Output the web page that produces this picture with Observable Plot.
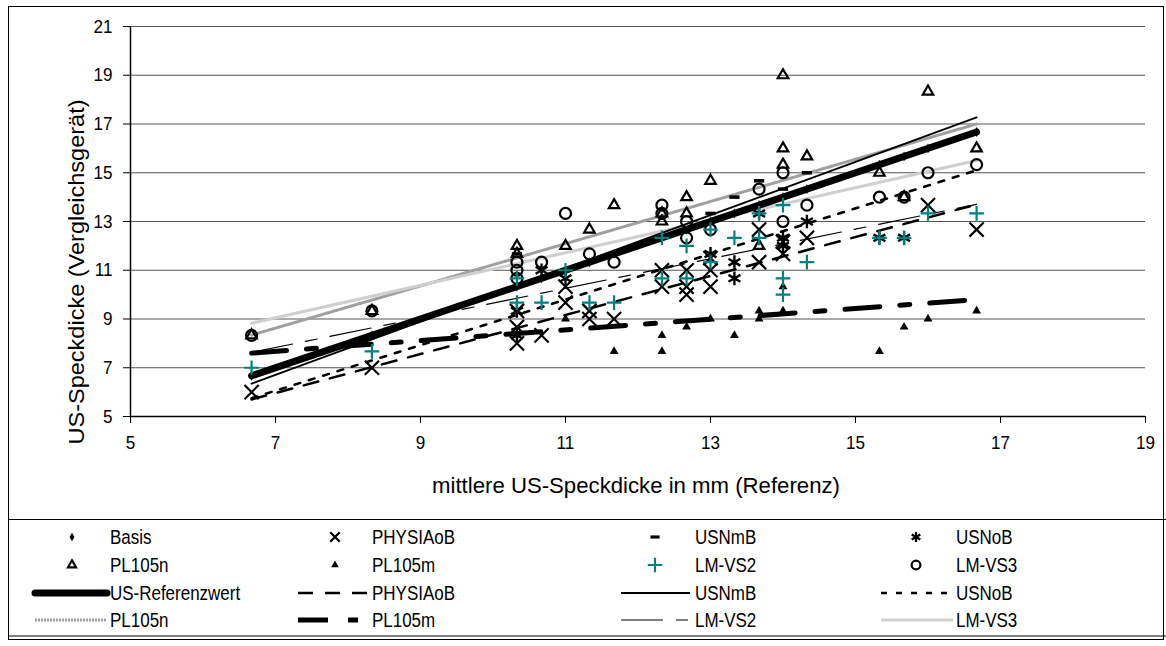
<!DOCTYPE html>
<html>
<head>
<meta charset="utf-8">
<script src="https://cdn.jsdelivr.net/npm/d3@7"></script>
<script src="https://cdn.jsdelivr.net/npm/@observablehq/plot@0.6"></script>
<style>
html,body{margin:0;padding:0;background:#fff;}
#wrap{position:relative;width:1166px;height:646px;overflow:hidden;background:#fff;}
#chart{position:absolute;left:0;top:0;}
#legend{position:absolute;left:0;top:510px;}
#frame{position:absolute;left:8px;top:6px;width:1156px;height:634px;border:1px solid #000;box-sizing:border-box;pointer-events:none;}
</style>
</head>
<body>
<div id="wrap"><div id="chart"></div><svg id="legend" width="1166" height="136"></svg><div id="frame"></div></div>
<script>
// ---------- data ----------
const xTicks = [5, 7, 9, 11, 13, 15, 17, 19];
const yTicks = [5, 7, 9, 11, 13, 15, 17, 19, 21];
const xTitle = "mittlere US-Speckdicke in mm (Referenz)";
const yTitle = "US-Speckdicke (Vergleichsgerät)";

const basis = [[6.67,6.67],[8.33,8.33],[10.33,10.33],[10.67,10.67],[11,11],[11.33,11.33],[11.67,11.67],[12.33,12.33],[12.67,12.67],[13,13],[13.33,13.33],[13.67,13.67],[14,14],[14.33,14.33],[15.33,15.33],[15.67,15.67],[16,16],[16.67,16.67]];
const physiaoB = [[6.67,6.0],[8.33,7.0],[10.33,9.33],[10.33,8.67],[10.33,8.0],[10.67,8.33],[11,10.33],[11,9.67],[11.33,9.33],[11.33,9.0],[11.67,9.0],[12.33,11.0],[12.33,10.33],[12.67,11.0],[12.67,10.33],[12.67,10.0],[13,11.5],[13,11.0],[13,10.33],[13.67,12.67],[13.67,11.33],[14,12.17],[14,11.67],[14.33,12.33],[16,13.67],[16.67,12.67]];
const usnmB = [[10.33,11.67],[13,13.33],[13.33,14.0],[13.67,14.67],[14,14.33],[14.33,15.0]];
const usnoB = [[10.33,9.33],[10.33,8.33],[10.67,11.0],[11,10.67],[13,11.67],[13.33,11.33],[13.33,10.67],[13.67,13.33],[14,12.33],[14,12.0],[14.33,13.0],[15.33,12.33],[15.67,12.33]];
const pl105n = [[6.67,8.33],[8.33,9.33],[10.33,12.0],[10.33,11.67],[11,12.0],[11.33,12.67],[11.67,13.67],[12.33,13.33],[12.33,13.0],[12.67,14.0],[12.67,13.33],[13,14.67],[13.67,12.0],[14,19.0],[14,16.0],[14,15.33],[14.33,15.67],[15.33,15.0],[15.67,14.0],[16,18.33],[16.67,16.0]];
const pl105m = [[11,9.0],[11.67,7.67],[12.33,8.33],[12.33,7.67],[12.67,8.67],[13,9.0],[13.33,8.33],[13.67,9.33],[13.67,9.0],[14,10.33],[14,9.33],[15.33,7.67],[15.67,8.67],[16,9.0],[16.67,9.33]];
const lmvs2 = [[6.67,7.0],[8.33,7.67],[10.33,10.67],[10.33,9.67],[10.67,9.67],[11,11.0],[11.33,9.67],[11.67,9.67],[12.33,12.33],[12.33,10.67],[12.67,12.0],[12.67,10.67],[13,12.67],[13,11.33],[13.33,12.33],[13.67,13.33],[13.67,12.33],[14,13.67],[14,10.67],[14,10.0],[14.33,11.33],[15.33,12.33],[15.67,12.33],[16,13.33],[16.67,13.33]];
const lmvs3 = [[6.67,8.33],[8.33,9.33],[10.33,11.33],[10.33,11.0],[10.33,10.67],[10.67,11.33],[11,13.33],[11.33,11.67],[11.67,11.33],[12.33,13.67],[12.33,13.33],[12.67,13.0],[12.67,12.33],[13,12.67],[13.67,14.33],[14,15.0],[14,13.0],[14.33,13.67],[15.33,14.0],[15.67,14.0],[16,15.0],[16.67,15.33]];

// trend lines: y at start and end of x range
const trendX = [6.67, 16.67];
const refLine = [6.67, 16.67];
const physiaLine = [5.7, 13.7];
const usnmbLine = [6.35, 17.27];
const usnobLine = [5.75, 15.1];
const pl105nLine = [8.34, 17.0];
const pl105mLine = [7.6, 9.8];
const lmvs2Line = [7.63, 13.7];
const lmvs3Line = [8.83, 15.5];

// ---------- styling ----------
const FONT = '"Liberation Sans",Arial,sans-serif';
const TEAL = "#008080";
const dashSymbol = {draw(ctx, size){const s=Math.sqrt(size);const w=s*1.45,h=s*0.5;ctx.rect(-w/2,-h/2,w,h);}};
const toRows = arr => trendX.map((x,i)=>({x, y: arr[i]}));
const px = d => d[0], py = d => d[1];

const lineMarks = [
  Plot.line(toRows(pl105nLine), {x:"x", y:"y", stroke:"#a0a0a0", strokeWidth:3, strokeDasharray:"2,1"}),
  Plot.line(toRows(lmvs3Line), {x:"x", y:"y", stroke:"#cfcfcf", strokeWidth:3}),
  Plot.line(toRows(pl105mLine), {x:"x", y:"y", stroke:"#000", strokeWidth:5, strokeDasharray:"35,20,10,20"}),
  Plot.line(toRows(lmvs2Line), {x:"x", y:"y", stroke:"#000", strokeWidth:1.2, strokeDasharray:"42,13,12,13"}),
  Plot.line(toRows(physiaLine), {x:"x", y:"y", stroke:"#000", strokeWidth:2.5, strokeDasharray:"15,12"}),
  Plot.line(toRows(usnobLine), {x:"x", y:"y", stroke:"#000", strokeWidth:2.5, strokeDasharray:"6,9"}),
  Plot.line(toRows(usnmbLine), {x:"x", y:"y", stroke:"#000", strokeWidth:2}),
  Plot.line(toRows(refLine), {x:"x", y:"y", stroke:"#000", strokeWidth:7, strokeLinecap:"round"})
];

const chart = Plot.plot({
  width: 1166, height: 510,
  marginLeft: 130, marginRight: 21, marginTop: 26, marginBottom: 94,
  style: {fontFamily: FONT, fontSize: "19px", background: "transparent", color: "#000"},
  x: {domain: [5, 19]},
  y: {domain: [5, 21]},
  marks: [
    Plot.ruleY(yTicks, {stroke: "#555", strokeWidth: 1}),
    Plot.axisX({ticks: xTicks, tickSize: 7, tickPadding: 12, label: null, fontSize: 19, stroke: "#000"}),
    Plot.axisY({ticks: yTicks, tickSize: 7, tickPadding: 11, label: null, fontSize: 19, stroke: "#000"}),
    Plot.ruleX([5], {stroke: "#000", strokeWidth: 1.5}),
    Plot.ruleY([5], {stroke: "#000", strokeWidth: 1.5}),
    Plot.dot(basis, {x: px, y: py, symbol: "diamond", r: 3, fill: "#000", stroke: "none"}),
    ...lineMarks,
    Plot.dot(pl105m, {x: px, y: py, symbol: "triangle", r: 3.3, fill: "#000", stroke: "none"}),
    Plot.dot(usnmB, {x: px, y: py, symbol: dashSymbol, r: 4, fill: "#000", stroke: "none"}),
    Plot.dot(physiaoB, {x: px, y: py, symbol: "times", r: 6.5, stroke: "#000", strokeWidth: 2.2, fill: "none"}),
    Plot.dot(usnoB, {x: px, y: py, symbol: "asterisk", r: 6.5, stroke: "#000", strokeWidth: 2.4, fill: "none"}),
    Plot.dot(pl105n, {x: px, y: py, symbol: "triangle2", r: 5, stroke: "#000", strokeWidth: 2.2, fill: "none"}),
    Plot.dot(lmvs3, {x: px, y: py, symbol: "circle", r: 5.5, stroke: "#000", strokeWidth: 2.2, fill: "none"}),
    Plot.dot(lmvs2, {x: px, y: py, symbol: "plus", r: 4.8, stroke: TEAL, strokeWidth: 2.2, fill: "none"})
  ]
});
document.getElementById("chart").appendChild(chart);

const squeeze = (sel, ratio) => sel.each(function(){
  const L = this.getComputedTextLength();
  if (L > 0) { this.setAttribute("textLength", (L * ratio).toFixed(1)); this.setAttribute("lengthAdjust", "spacingAndGlyphs"); }
});
const fit = (sel, len) => sel.attr("textLength", len).attr("lengthAdjust", "spacingAndGlyphs");

const svg = d3.select(chart);
squeeze(svg.selectAll("g[aria-label='x-axis tick label'] text, g[aria-label='y-axis tick label'] text"), 0.9);
fit(svg.append("text").attr("transform", "translate(84,272) rotate(-90)")
  .attr("text-anchor", "middle").attr("font-family", FONT).attr("font-size", 22).attr("fill", "#000").text(yTitle), 345);
fit(svg.append("text").attr("x", 636).attr("y", 493)
  .attr("text-anchor", "middle").attr("font-family", FONT).attr("font-size", 22).attr("fill", "#000").text(xTitle), 408);

// ---------- legend ----------
const lg = d3.select("#legend");
lg.append("line").attr("x1", 8).attr("x2", 1166).attr("y1", 9.5).attr("y2", 9.5).attr("stroke", "#000").attr("stroke-width", 1);
lg.append("line").attr("x1", 8).attr("x2", 1166).attr("y1", 126).attr("y2", 126).attr("stroke", "#808080").attr("stroke-width", 2);
const rows = [27, 55, 83, 110];
const textX = [110, 372, 695, 956];
const markX = [72, 335, 655, 916];
const sym = (type, size) => d3.symbol().type(type).size(size)();
const markerItems = [
  {row:0, col:0, label:"Basis", d: sym(d3.symbolDiamond, 22), fill:"#000"},
  {row:0, col:1, label:"PHYSIAoB", d: sym(d3.symbolTimes, 60), stroke:"#000"},
  {row:0, col:2, label:"USNmB", d: sym(dashSymbol, 40), fill:"#000"},
  {row:0, col:3, label:"USNoB", d: sym(d3.symbolAsterisk, 70), stroke:"#000"},
  {row:1, col:0, label:"PL105n", d: sym(d3.symbolTriangle2, 45), stroke:"#000"},
  {row:1, col:1, label:"PL105m", d: sym(d3.symbolTriangle, 25), fill:"#000"},
  {row:1, col:2, label:"LM-VS2", d: sym(d3.symbolPlus, 70), stroke:TEAL},
  {row:1, col:3, label:"LM-VS3", d: sym(d3.symbolCircle, 60), stroke:"#000"}
];
const legendText = (col, row, label) => squeeze(lg.append("text").attr("x", textX[col]).attr("y", rows[row]).attr("dy", "0.36em")
    .attr("font-family", FONT).attr("font-size", 19.5).attr("fill", "#000").text(label), 0.87);
markerItems.forEach(m => {
  lg.append("path").attr("d", m.d).attr("transform", `translate(${markX[m.col]},${rows[m.row]})`)
    .attr("fill", m.fill || "none").attr("stroke", m.stroke || "none").attr("stroke-width", 2.2);
  legendText(m.col, m.row, m.label);
});
const lineItems = [
  {row:2, col:0, x1:35, x2:107, label:"US-Referenzwert", stroke:"#000", w:7, cap:"round"},
  {row:2, col:1, x1:298, x2:367, label:"PHYSIAoB", stroke:"#000", w:2.5, dash:"15,12"},
  {row:2, col:2, x1:621, x2:690, label:"USNmB", stroke:"#000", w:2},
  {row:2, col:3, x1:881, x2:953, label:"USNoB", stroke:"#000", w:2.5, dash:"6,9"},
  {row:3, col:0, x1:35, x2:107, label:"PL105n", stroke:"#a0a0a0", w:3, dash:"2,1"},
  {row:3, col:1, x1:298, x2:362, label:"PL105m", stroke:"#000", w:5, dash:"30,20,10,20"},
  {row:3, col:2, x1:621, x2:690, label:"LM-VS2", stroke:"#000", w:1.2, dash:"42,13,12,13"},
  {row:3, col:3, x1:881, x2:953, label:"LM-VS3", stroke:"#cfcfcf", w:3}
];
lineItems.forEach(m => {
  lg.append("line").attr("x1", m.x1).attr("x2", m.x2).attr("y1", rows[m.row]).attr("y2", rows[m.row])
    .attr("stroke", m.stroke).attr("stroke-width", m.w).attr("stroke-dasharray", m.dash || null)
    .attr("stroke-linecap", m.cap || "butt");
  legendText(m.col, m.row, m.label);
});
</script>
</body>
</html>
